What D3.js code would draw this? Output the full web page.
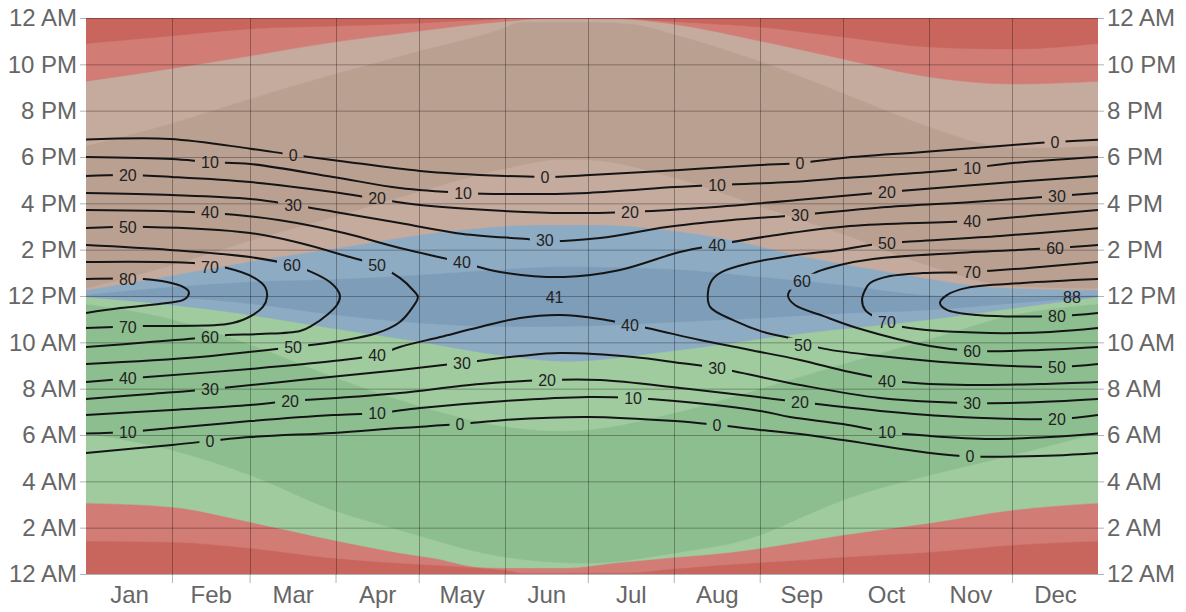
<!DOCTYPE html>
<html>
<head>
<meta charset="utf-8">
<script src="https://cdn.jsdelivr.net/npm/d3@7"></script>
<style>
  body { margin: 0; background: #fff; }
  svg { font-family: "Liberation Sans", Arial, sans-serif; }
</style>
</head>
<body>
<svg id="chart" width="1186" height="612"></svg>
<script>
// ---- data: x = day of year, y = hour of day ----
const months = ["Jan", "Feb", "Mar", "Apr", "May", "Jun", "Jul", "Aug", "Sep", "Oct", "Nov", "Dec"]
const monthStarts = [0, 31, 59, 90, 120, 151, 181, 212, 243, 273, 304, 334, 365]
const hourTicks = [0, 2, 4, 6, 8, 10, 12, 14, 16, 18, 20, 22, 24]
const hourLabels = ["12 AM", "2 AM", "4 AM", "6 AM", "8 AM", "10 AM", "12 PM", "2 PM", "4 PM", "6 PM", "8 PM", "10 PM", "12 AM"]

// azimuth band boundaries, bottom to top (hour at which each band starts)
const az157 = [[0,1.42],[31,1.38],[59.2,1.12],[89.1,0.69],[113.2,0.47],[142.1,0.26],[151.1,0.17],[157.6,0.04],[196.2,0.06],[209.5,0.2],[230,0.4],[257.5,0.6],[273,0.73],[304.4,0.95],[334.3,1.25],[365,1.42]]
const az135 = [[0,3.06],[31,2.89],[59.2,2.24],[89.1,1.47],[113.2,0.91],[125.2,0.69],[141.4,0.3],[151.1,0.26],[173.5,0.26],[190.1,0.47],[209.5,0.69],[233.4,0.95],[257.5,1.38],[273,1.68],[304.4,2.2],[334.3,2.76],[365,3.06]]
const az112 = [[0,6.08],[31,5.35],[59.2,4.27],[89.1,2.76],[113.2,1.9],[151.1,0.73],[180.6,0.47],[212.4,0.91],[243.1,1.68],[257.5,2.42],[273,3.19],[304.4,4.27],[334.3,5.14],[365,6.08]]
const az67 = [[0,11.65],[31,11.0],[59,9.92],[90,8.48],[120,7.26],[151,6.37],[172,6.18],[181,6.23],[212,6.95],[243,7.99],[273,9.06],[304,10.13],[334,11.17],[365,11.65]]
const az45 = [[0,11.96],[46.5,11.4],[93.1,10.53],[116.5,10.1],[149.3,9.45],[173.5,9.18],[209.5,9.6],[256.1,10.36],[302.6,10.96],[337.6,11.53],[365,11.96]]
const az22 = [[0,11.98],[31,11.94],[59,11.68],[90,11.19],[120,10.84],[151,10.68],[172,10.69],[212,10.88],[243,11.05],[273,11.26],[304,11.4],[334,11.69],[365,11.98]]
const az337 = [[0,12.05],[31,12.4],[59,12.62],[90,12.73],[120,12.92],[151,13.16],[172,13.27],[212,13.16],[243,12.83],[273,12.48],[304,12.04],[334,11.95],[365,12.05]]
const az315 = [[0,12.26],[27.8,12.82],[58.1,13.47],[93.1,14.12],[128,14.76],[163,15.07],[186.1,15.07],[209.5,14.85],[233,14.42],[256.1,13.77],[279.5,13.25],[302.6,12.78],[326,12.39],[365,12.26]]
const az292 = [[0,12.33],[31,13.34],[59,14.38],[90,15.44],[120,16.5],[151,17.5],[172,17.9],[181,17.88],[212,17.12],[243,15.89],[273,14.68],[304,13.31],[334,12.43],[365,12.33]]
const az247 = [[0,18.48],[29.9,19.42],[58.8,20.5],[89.4,21.58],[120.1,22.58],[151.5,23.61],[156.2,23.83],[181.8,23.83],[197.3,23.74],[211.7,23.31],[243.1,22.14],[273,20.76],[304.4,19.29],[326,18.52],[334.3,18.39],[365,18.48]]
const az225 = [[0,21.27],[29.9,21.8],[58.8,22.36],[89.4,22.96],[120.1,23.44],[134.5,23.65],[152.6,23.87],[163.7,23.96],[192.6,23.96],[199.8,23.91],[211.7,23.74],[243.1,23.01],[273,22.23],[304.4,21.45],[334.3,21.15],[365,21.27]]
const az202 = [[0,22.9],[29.9,23.22],[58.8,23.53],[89.4,23.65],[120.1,23.78],[134.5,23.87],[149.3,23.96],[152.9,24],[192.6,24],[197.3,23.96],[221.4,23.78],[243.1,23.61],[273,23.18],[304.4,22.75],[334.3,22.66],[365,22.9]]

const bandBoundaries = [az157, az135, az112, az67, az45, az22, az337, az315, az292, az247, az225, az202]
const nightColor = "#c8665e"
const bandColors = ["#d27c76", "#9fcb9f", "#8dbe8f", "#9fcb9f", "#8eabc4", "#7d9db8", "#8eabc4", "#c5aa9e", "#b9a091", "#c5aa9e", "#d27c76", "#c8665e"]

// solar elevation contours
const eve0 = [[0,18.75],[30.3,18.78],[59.2,18.36],[74.7,18.09],[91.6,17.83],[120.5,17.4],[151.1,17.18],[165.5,17.14],[181.8,17.22],[214.2,17.44],[243.1,17.65],[257.5,17.74],[273,17.96],[301.9,18.22],[334.3,18.52],[349.5,18.65],[365,18.75]]
const morn0 = [[0,5.22],[31,5.57],[59.2,5.91],[89.1,6.09],[113.2,6.3],[134.9,6.47],[151.1,6.65],[181.1,6.78],[212.4,6.6],[227.6,6.43],[243.1,6.22],[257.5,6.04],[273,5.78],[304.4,5.22],[318.8,5.07],[334.3,5.07],[349.5,5.11],[365,5.22]]
const eve10 = [[0,18.0],[31,17.91],[44.7,17.78],[59.2,17.7],[89.1,17.14],[113.2,16.66],[136,16.45],[151.1,16.4],[181.1,16.45],[212.4,16.7],[227.6,16.79],[253.9,16.92],[273,17.09],[304.4,17.35],[319.6,17.53],[334.3,17.74],[365,18.0]]
const morn10 = [[0,6.06],[15.1,6.13],[31,6.3],[59.2,6.6],[89.1,6.86],[105,6.95],[120.5,7.17],[151.1,7.47],[181.1,7.64],[197.3,7.6],[212.4,7.47],[243.1,7.04],[253.9,6.78],[273,6.47],[288.9,6.13],[304.4,5.96],[326,5.83],[347.7,5.91],[365,6.06]]
const eve20 = [[0,17.18],[14.8,17.22],[31,17.14],[59.2,16.92],[89.1,16.49],[105,16.19],[120.5,15.93],[151.1,15.67],[172.8,15.58],[196.2,15.63],[221.4,15.8],[257.5,16.15],[288.9,16.49],[334.3,16.92],[365,17.18]]
const morn20 = [[0,6.86],[31,7.08],[59.2,7.29],[73.6,7.47],[95.2,7.64],[113.2,7.81],[142.1,8.2],[166.3,8.37],[185.4,8.37],[214.2,8.03],[239.5,7.68],[257.5,7.42],[286.4,7.04],[315.1,6.78],[350.2,6.69],[365,6.86]]
const eve30 = [[0,16.45],[31,16.36],[59.2,16.19],[74.7,15.93],[89.8,15.63],[113.2,15.15],[136,14.68],[159.1,14.46],[166.3,14.37],[185.4,14.5],[209.5,14.98],[232.3,15.27],[257.5,15.5],[288.9,15.84],[319.6,16.06],[350.2,16.32],[365,16.45]]
const morn30 = [[0,7.55],[23.1,7.77],[44.7,7.98],[77.2,8.37],[113.2,8.81],[135.6,9.11],[156.5,9.41],[171,9.54],[197.3,9.37],[214.2,9.11],[227.6,8.89],[257.5,8.16],[286.4,7.6],[318.8,7.38],[344.1,7.42],[365,7.55]]
const eve40 = [[0,15.71],[45.4,15.58],[70,15.27],[93.1,14.72],[113.2,14.07],[134.9,13.47],[149.3,13.04],[172.4,12.82],[192.6,13.12],[214.2,13.9],[226.9,14.2],[246.7,14.59],[275.5,15.02],[318.8,15.24],[344.1,15.5],[365,15.71]]
const morn40 = [[0,8.29],[22,8.5],[59.2,8.85],[89.1,9.19],[105,9.45],[113.2,9.8],[127.7,10.23],[142.1,10.66],[156.5,11.05],[171,11.18],[185.4,11.01],[202.3,10.62],[221.4,10.1],[239.5,9.67],[257.5,9.24],[275.5,8.72],[294.7,8.29],[319.6,8.16],[344.1,8.2],[365,8.29]]
const left50 = [[0,14.93],[22,14.98],[59.2,14.72],[77.2,14.29],[95.2,13.68],[105,13.34],[113.2,12.78],[117.9,12.26],[119.7,11.96],[117.9,11.53],[113.2,10.88],[105,10.4],[91.6,10.06],[74.7,9.8],[41.1,9.37],[0,9.07]]
const left60 = [[0,14.2],[30.3,13.99],[59.2,13.68],[74.3,13.34],[79.7,13.12],[86.9,12.69],[90.5,12.3],[91.6,12.0],[90.5,11.61],[86.9,11.18],[81.9,10.75],[77.2,10.49],[62.8,10.36],[50.9,10.32],[44.7,10.23],[23.1,10.01],[0,9.8]]
const left70 = [[0,13.47],[38.6,13.42],[50.9,13.21],[60.2,12.82],[64.6,12.39],[65.3,11.96],[63.8,11.53],[58.1,11.05],[50.9,10.79],[20.6,10.7],[0,10.62]]
const left80 = [[0,12.73],[20.6,12.73],[29.2,12.6],[35,12.39],[37.1,12.17],[35.7,11.87],[29.2,11.7],[12.3,11.48],[0,11.27]]
const right50 = [[365,9.07],[350.2,8.94],[314.1,9.11],[286.4,9.41],[264.7,9.76],[253.9,10.19],[245.6,10.4],[233.4,10.96],[225.1,11.53],[224.3,12.13],[225.8,12.69],[229.4,13.04],[239.5,13.42],[253.9,13.73],[271.9,13.99],[282.8,14.2],[294.7,14.33],[329.7,14.59],[365,14.93]]
const right60 = [[365,9.8],[344.1,9.67],[319.6,9.63],[304.4,9.84],[278.1,10.62],[265.8,11.14],[255.7,11.61],[253.2,12.0],[254.6,12.35],[258.2,12.65],[263.6,13.04],[271.9,13.34],[283.9,13.6],[314.1,13.86],[349.5,14.07],[365,14.2]]
const right70 = [[365,10.62],[347.7,10.45],[326,10.4],[294.7,10.66],[288.9,10.88],[284.6,11.09],[281,11.4],[279.9,11.83],[281,12.26],[282.8,12.56],[290,12.86],[301.9,12.99],[319.6,13.04],[344.1,13.25],[365,13.47]]
const right80 = [[365,11.27],[350.2,11.14],[321.4,11.18],[310.5,11.4],[308,11.7],[310.5,12.04],[317.7,12.35],[337.9,12.56],[365,12.73]]

const contours = [eve0, morn0, eve10, morn10, eve20, morn20, eve30, morn30, eve40, morn40,
  left50, left60, left70, left80, right50, right60, right70, right80]

// contour labels: [text, day, hour]
const contourLabels = [
  [0,74.7,18.09],[0,165.5,17.14],[0,257.5,17.74],[0,349.5,18.65],
  [10,44.7,17.78],[10,136,16.45],[10,227.6,16.79],[10,319.6,17.53],
  [20,15.1,17.22],[20,105,16.2],[20,196.2,15.63],[20,288.9,16.49],
  [30,74.7,15.93],[30,165.5,14.4],[30,257.5,15.5],[30,350.2,16.32],
  [40,44.7,15.63],[40,135.6,13.44],[40,227.6,14.2],[40,319.6,15.24],
  [50,15.1,14.98],[50,105,13.32],[50,288.9,14.29],
  [60,74.3,13.34],[60,258.2,12.62],[60,349.5,14.07],
  [70,44.7,13.25],[70,319.6,13.04],
  [80,15.1,12.73],
  [80,350.2,11.14],
  [70,15.1,10.66],[70,288.9,10.88],
  [60,44.7,10.23],[60,319.6,9.6],
  [50,74.7,9.8],[50,258.6,9.86],[50,350.2,8.94],
  [40,15.1,8.46],[40,105,9.45],[40,196.2,10.75],[40,288.9,8.31],
  [30,44.7,7.98],[30,135.6,9.11],[30,227.6,8.89],[30,319.6,7.36],
  [20,73.6,7.47],[20,166.3,8.37],[20,257.5,7.42],[20,350.2,6.69],
  [10,15.1,6.13],[10,105,6.95],[10,197.3,7.6],[10,288.9,6.13],
  [0,44.7,5.74],[0,134.9,6.47],[0,227.6,6.43],[0,318.8,5.07]
]
const peakLabels = [[41,169,11.96],[88,355.6,11.96]]

// ---- drawing ----
const W = 1186, H = 612
const margin = {left: 86, right: 88, top: 18, bottom: 38}
const svg = d3.select("#chart")

const x = d3.scaleLinear().domain([0, 365]).range([margin.left, W - margin.right])
const y = d3.scaleLinear().domain([0, 24]).range([H - margin.bottom, margin.top])

const defs = svg.append("defs")
defs.append("clipPath").attr("id", "plot")
  .append("rect")
  .attr("x", x(0)).attr("y", y(24))
  .attr("width", x(365) - x(0)).attr("height", y(0) - y(24))

const bands = svg.append("g").attr("clip-path", "url(#plot)")
bands.append("rect")
  .attr("x", x(0)).attr("y", y(24))
  .attr("width", x(365) - x(0)).attr("height", y(0) - y(24))
  .attr("fill", nightColor)

const bandArea = d3.area()
  .x(d => x(d[0]))
  .y0(y(24))
  .y1(d => y(d[1]))
  .curve(d3.curveMonotoneX)

bands.selectAll("path.band")
  .data(bandBoundaries)
  .enter()
  .append("path")
  .attr("class", "band")
  .attr("d", bandArea)
  .attr("fill", (d, i) => bandColors[i])
  .attr("stroke", (d, i) => bandColors[i])
  .attr("stroke-width", 0.5)

// grid
const grid = svg.append("g")
grid.selectAll("line.h")
  .data(hourTicks)
  .enter()
  .append("line")
  .attr("x1", x(0)).attr("x2", x(365))
  .attr("y1", d => y(d) + 0.5).attr("y2", d => y(d) + 0.5)
  .attr("stroke", "rgba(0,0,0,0.3)")
grid.selectAll("line.v")
  .data(monthStarts.slice(1, 12))
  .enter()
  .append("line")
  .attr("x1", d => Math.round(x(d)) + 0.5).attr("x2", d => Math.round(x(d)) + 0.5)
  .attr("y1", y(24)).attr("y2", y(0))
  .attr("stroke", "rgba(0,0,0,0.3)")

// contour lines with gaps for labels
const mask = defs.append("mask").attr("id", "gaps")
  .attr("maskUnits", "userSpaceOnUse")
  .attr("x", 0).attr("y", 0).attr("width", W).attr("height", H)
mask.append("rect").attr("width", W).attr("height", H).attr("fill", "white")
mask.selectAll("rect.gap")
  .data(contourLabels)
  .enter()
  .append("rect")
  .attr("class", "gap")
  .attr("x", d => x(d[1]) - (String(d[0]).length * 4.5 + 6))
  .attr("y", d => y(d[2]) - 8)
  .attr("width", d => String(d[0]).length * 9 + 12)
  .attr("height", 16)
  .attr("fill", "black")

const contourLine = d3.line()
  .x(d => x(d[0]))
  .y(d => y(d[1]))
  .curve(d3.curveCatmullRom.alpha(0.5))

const lines = svg.append("g").attr("clip-path", "url(#plot)")
  .append("g").attr("mask", "url(#gaps)")
lines.selectAll("path")
  .data(contours)
  .enter()
  .append("path")
  .attr("d", contourLine)
  .attr("fill", "none")
  .attr("stroke", "#151515")
  .attr("stroke-width", 2)

svg.append("g")
  .selectAll("text")
  .data(contourLabels.concat(peakLabels))
  .enter()
  .append("text")
  .attr("x", d => x(d[1]))
  .attr("y", d => y(d[2]))
  .attr("dy", "0.36em")
  .attr("text-anchor", "middle")
  .attr("font-size", 16)
  .attr("fill", "#222")
  .text(d => d[0])

// axes
const axisColor = "#666"
const leftAxis = d3.axisLeft(y).tickValues(hourTicks).tickFormat((d, i) => hourLabels[i]).tickSize(6).tickPadding(3)
const rightAxis = d3.axisRight(y).tickValues(hourTicks).tickFormat((d, i) => hourLabels[i]).tickSize(6).tickPadding(3)

const styleAxis = g => {
  g.select(".domain").remove()
  g.selectAll(".tick line").attr("stroke", "rgba(0,0,0,0.3)")
  g.selectAll(".tick text").attr("fill", axisColor).attr("font-size", 24)
    .attr("font-family", "'Liberation Sans', Arial, sans-serif")
}

svg.append("g").attr("transform", `translate(${x(0)},0)`).call(leftAxis).call(styleAxis)
svg.append("g").attr("transform", `translate(${x(365)},0)`).call(rightAxis).call(styleAxis)

const monthMids = months.map((m, i) => (monthStarts[i] + monthStarts[i + 1]) / 2)
svg.append("g").attr("transform", `translate(0,${y(0)})`)
  .call(d3.axisBottom(x).tickValues(monthStarts.slice(1, 12)).tickFormat("").tickSize(9))
  .call(styleAxis)
svg.append("g").attr("transform", `translate(0,${y(0)})`)
  .call(d3.axisBottom(x).tickValues(monthMids).tickFormat((d, i) => months[i]).tickSize(0).tickPadding(12))
  .call(styleAxis)
</script>
</body>
</html>
